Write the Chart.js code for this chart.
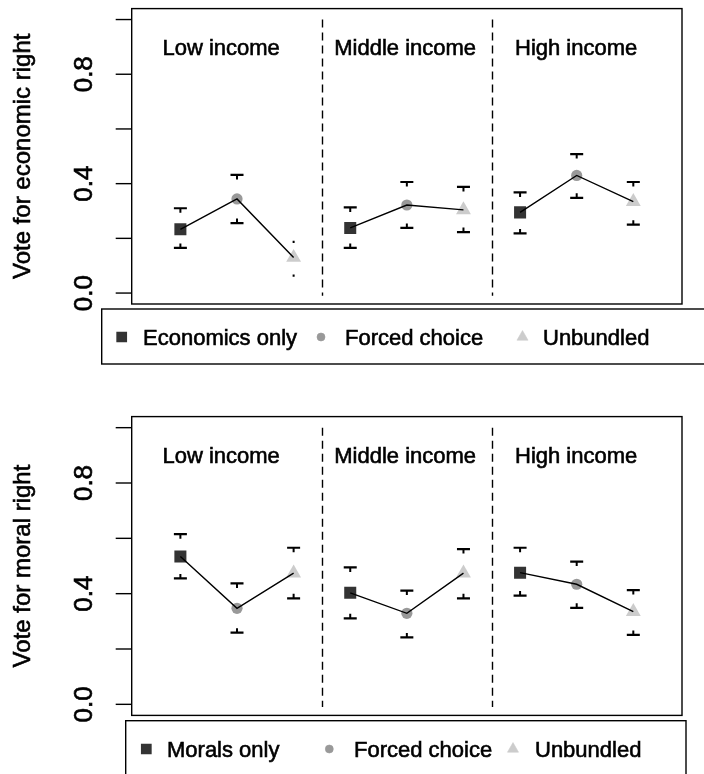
<!DOCTYPE html>
<html><head><meta charset="utf-8">
<script src="https://cdn.jsdelivr.net/npm/chart.js@4/dist/chart.umd.min.js"></script>
<style>
html,body{margin:0;padding:0;background:#fff;width:704px;height:774px;overflow:hidden}
canvas{position:absolute;left:0}
</style></head>
<body>
<canvas id="c1" width="704" height="390" style="top:0"></canvas>
<canvas id="c2" width="704" height="384" style="top:390px"></canvas>
<script>
// ---------- data ----------
const groups = ['Low income', 'Middle income', 'High income'];
const groupLabelX = [1.72, 4.97, 7.99];
const groupLabelY = 0.9;
const xPositions = [1, 2, 3, 4, 5, 6, 7, 8, 9];
const dividers = [3.5, 6.5];
const yTicks = [0, 0.2, 0.4, 0.6, 0.8, 1.0];
const yTickLabels = ['0.0', '', '0.4', '', '0.8', ''];

const econTitle = 'Vote for economic right';
const econLegend = ['Economics only', 'Forced choice', 'Unbundled'];
const econMean  = [0.233, 0.344, 0.130, 0.238, 0.322, 0.304, 0.295, 0.430, 0.334];
const econUpper = [0.310, 0.432, 0.187, 0.313, 0.406, 0.388, 0.368, 0.508, 0.406];
const econLower = [0.165, 0.256, 0.064, 0.165, 0.238, 0.223, 0.218, 0.348, 0.250];

const moralTitle = 'Vote for moral right';
const moralLegend = ['Morals only', 'Forced choice', 'Unbundled'];
const moralMean  = [0.534, 0.347, 0.474, 0.403, 0.329, 0.474, 0.476, 0.434, 0.335];
const moralUpper = [0.615, 0.437, 0.566, 0.495, 0.411, 0.561, 0.566, 0.516, 0.413];
const moralLower = [0.455, 0.259, 0.383, 0.311, 0.242, 0.383, 0.393, 0.349, 0.251];

// ---------- style ----------
const FONT = '"Liberation Sans", Arial, Helvetica, sans-serif';
const markerStyles = [
  {style: 'rect', color: '#333333', radius: 8.5, legendR: 6.6},
  {style: 'circle', color: '#999999', radius: 5.6, legendR: 4},
  {style: 'triangle', color: '#cccccc', radius: 8.6, legendR: 6.4}
];

function heavyText(ctx, s, x, y) {
  ctx.fillText(s, x, y);
  ctx.lineWidth = 0.6; ctx.strokeStyle = ctx.fillStyle;
  ctx.strokeText(s, x, y);
}

function buildChart(canvasId, mean, upper, lower, title, legendLabels, opts) {
  const datasets = [];
  for (let g = 0; g < 3; g++) {
    datasets.push({
      type: 'line',
      data: [0, 1, 2].map(k => ({x: xPositions[g * 3 + k], y: mean[g * 3 + k]})),
      borderColor: '#000', borderWidth: 1.4, pointRadius: 0, fill: false, tension: 0
    });
  }
  for (let t = 0; t < 3; t++) {
    const m = markerStyles[t];
    datasets.push({
      type: 'scatter',
      data: [0, 1, 2].map(g => ({x: xPositions[g * 3 + t], y: mean[g * 3 + t]})),
      pointStyle: m.style, pointRadius: m.radius, pointHoverRadius: m.radius,
      backgroundColor: m.color, borderColor: m.color, borderWidth: 0, showLine: false
    });
  }

  const decor = {
    id: 'decor',
    beforeDatasetsDraw(chart) {
      const ctx = chart.ctx, xs = chart.scales.x, ys = chart.scales.y;
      ctx.save();
      ctx.strokeStyle = '#000'; ctx.lineWidth = 1.4; ctx.setLineDash([8, 5]);
      dividers.forEach(d => {
        const px = Math.round(xs.getPixelForValue(d)) + 0.5;
        ctx.beginPath();
        ctx.moveTo(px, ys.getPixelForValue(1.0));
        ctx.lineTo(px, ys.getPixelForValue(-0.01));
        ctx.stroke();
      });
      ctx.setLineDash([]);
      ctx.fillStyle = '#000';
      ctx.font = '22px ' + FONT;
      ctx.textAlign = 'center'; ctx.textBaseline = 'alphabetic';
      groups.forEach((g, i) => {
        heavyText(ctx, g, xs.getPixelForValue(groupLabelX[i]), ys.getPixelForValue(groupLabelY) + 8);
      });
      ctx.restore();
    },
    afterDatasetsDraw(chart) {
      const ctx = chart.ctx, xs = chart.scales.x, ys = chart.scales.y, a = chart.chartArea;
      ctx.save();
      ctx.strokeStyle = '#000'; ctx.lineCap = 'butt';
      xPositions.forEach((xv, i) => {
        const px = xs.getPixelForValue(xv);
        const pu = ys.getPixelForValue(upper[i]);
        const pl = ys.getPixelForValue(lower[i]);
        const tiny = opts.tinyCaps.includes(i);
        const hw = tiny ? 1 : 6.5;
        ctx.lineWidth = 2.2;
        ctx.beginPath();
        ctx.moveTo(px - hw, pu); ctx.lineTo(px + hw, pu);
        ctx.moveTo(px - hw, pl); ctx.lineTo(px + hw, pl);
        ctx.stroke();
        if (!tiny) {
          ctx.lineWidth = 2;
          ctx.beginPath();
          ctx.moveTo(px, pu); ctx.lineTo(px, pu + 4.5);
          ctx.moveTo(px, pl); ctx.lineTo(px, pl - 4.5);
          ctx.stroke();
        }
      });
      ctx.lineWidth = 1.4; ctx.strokeStyle = '#000';
      ctx.strokeRect(a.left, a.top, a.right - a.left, a.bottom - a.top);
      yTicks.forEach((v, i) => {
        const py = ys.getPixelForValue(v);
        ctx.lineWidth = 1.4; ctx.strokeStyle = '#000';
        ctx.beginPath(); ctx.moveTo(a.left - 16, py); ctx.lineTo(a.left, py); ctx.stroke();
        if (yTickLabels[i]) {
          ctx.save();
          ctx.translate(opts.tickBaseX, py);
          ctx.rotate(-Math.PI / 2);
          ctx.font = '26px ' + FONT; ctx.fillStyle = '#000';
          ctx.textAlign = 'center'; ctx.textBaseline = 'alphabetic';
          heavyText(ctx, yTickLabels[i], 0, 0);
          ctx.restore();
        }
      });
      ctx.save();
      ctx.translate(opts.titleBaseX, (a.top + a.bottom) / 2);
      ctx.rotate(-Math.PI / 2);
      ctx.font = '24px ' + FONT; ctx.fillStyle = '#000';
      ctx.textAlign = 'center'; ctx.textBaseline = 'alphabetic';
      heavyText(ctx, title, 0, 0);
      ctx.restore();
      const L = opts.legend;
      ctx.lineWidth = 1.4; ctx.strokeStyle = '#000';
      ctx.strokeRect(L.left, L.top, L.right - L.left, L.bottom - L.top);
      ctx.font = '22px ' + FONT; ctx.textAlign = 'left'; ctx.textBaseline = 'alphabetic';
      legendLabels.forEach((lab, t) => {
        const m = markerStyles[t];
        ctx.save();
        ctx.fillStyle = m.color; ctx.strokeStyle = m.color;
        Chart.helpers.drawPoint(ctx, {pointStyle: m.style, radius: m.legendR, borderWidth: 0.01, rotation: 0},
          L.markerX[t], L.y);
        ctx.restore();
        ctx.fillStyle = '#000';
        heavyText(ctx, lab, L.textX[t], L.y + 8);
      });
      ctx.restore();
    }
  };

  return new Chart(document.getElementById(canvasId), {
    data: {datasets},
    options: {
      responsive: false, animation: false, devicePixelRatio: 1,
      layout: {padding: opts.padding},
      plugins: {legend: {display: false}, tooltip: {enabled: false}},
      events: [],
      scales: {
        x: {type: 'linear', min: 0.14, max: 9.86, display: false},
        y: {type: 'linear', min: -0.04, max: 1.04, display: false}
      }
    },
    plugins: [decor]
  });
}

buildChart('c1', econMean, econUpper, econLower, econTitle, econLegend, {
  padding: {left: 131.7, right: 22, top: 4, bottom: 86},
  tinyCaps: [2],
  tickBaseX: 92, titleBaseX: 30,
  legend: {left: 101.7, top: 309, right: 708, bottom: 364, y: 337,
           markerX: [121.7, 321, 522.5], textX: [143, 345, 543]}
});
buildChart('c2', moralMean, moralUpper, moralLower, moralTitle, moralLegend, {
  padding: {left: 131.7, right: 22, top: 26.6, bottom: 58.6},
  tinyCaps: [],
  tickBaseX: 92, titleBaseX: 30,
  legend: {left: 125.7, top: 330.7, right: 686, bottom: 392, y: 359,
           markerX: [146.3, 329.3, 513], textX: [167, 354, 535]}
});
</script>
</body></html>
